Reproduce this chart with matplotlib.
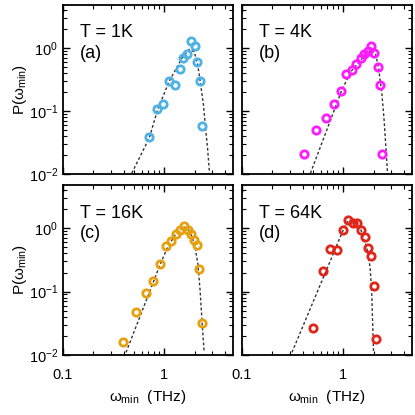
"""Distribution of omega_min at four temperatures (2x2 log-log panels)."""
import matplotlib
matplotlib.use('Agg')
import matplotlib.pyplot as plt
from matplotlib.ticker import LogLocator, FixedLocator, FixedFormatter, NullFormatter

plt.rcParams['font.family'] = ['Liberation Sans', 'DejaVu Sans']
plt.rcParams['mathtext.fontset'] = 'custom'
plt.rcParams['mathtext.rm'] = 'Liberation Sans'
plt.rcParams['mathtext.it'] = 'Liberation Sans'
plt.rcParams['mathtext.bf'] = 'Liberation Sans:bold'

# ---- data ----
temps = ["T = 1K", "T = 4K", "T = 16K", "T = 64K"]
tags = ["(a)", "(b)", "(c)", "(d)"]
colors = ['#4DB2E6', '#FF1AFF', '#E5A00D', '#E02619']

w_1K = [0.71, 0.86, 0.98, 1.13, 1.28, 1.42, 1.54, 1.69, 1.84, 2.00, 2.11, 2.26, 2.39]
p_1K = [0.038, 0.107, 0.13, 0.30, 0.26, 0.46, 0.68, 0.81, 1.28, 1.09, 0.59, 0.30, 0.057]

w_4K = [0.41, 0.545, 0.68, 0.815, 0.955, 1.08, 1.23, 1.35, 1.49, 1.61, 1.75, 1.89, 2.04,
        2.19, 2.31, 2.43]
p_4K = [0.021, 0.049, 0.077, 0.128, 0.21, 0.38, 0.45, 0.56, 0.69, 0.79, 0.90, 1.08, 0.84,
        0.49, 0.255, 0.021]

w_16K = [0.395, 0.53, 0.66, 0.78, 0.92, 1.05, 1.18, 1.31, 1.44, 1.58, 1.71, 1.84, 1.97,
         2.10, 2.20, 2.38]
p_16K = [0.016, 0.048, 0.095, 0.149, 0.276, 0.525, 0.63, 0.81, 0.95, 1.09, 0.95, 0.81,
         0.66, 0.55, 0.23, 0.032]

w_64K = [0.505, 0.63, 0.746, 0.877, 1.0, 1.12, 1.25, 1.38, 1.50, 1.63, 1.75, 1.87, 2.00, 2.12]
p_64K = [0.0266, 0.214, 0.47, 0.46, 0.93, 1.35, 1.21, 1.20, 0.94, 0.72, 0.48, 0.37,
         0.121, 0.0176]

# fitted (dotted) curves, traced points
fw_1K = [0.479, 0.715, 0.867, 1.128, 1.50, 1.77, 1.98, 2.14, 2.27, 2.45, 2.57, 2.69, 2.81]
fp_1K = [0.0103, 0.0377, 0.108, 0.30, 0.686, 0.95, 0.87, 0.57, 0.30, 0.125, 0.053, 0.0256, 0.0103]

fw_4K = [0.475, 0.68, 0.966, 1.19, 1.55, 1.92, 2.11, 2.24, 2.41, 2.55, 2.65, 2.75]
fp_4K = [0.0103, 0.047, 0.21, 0.42, 0.686, 0.93, 0.77, 0.48, 0.20, 0.068, 0.026, 0.0103]

fw_16K = [0.42, 0.624, 0.92, 1.10, 1.34, 1.55, 1.78, 2.00, 2.16, 2.27, 2.38, 2.49]
fp_16K = [0.011, 0.0557, 0.276, 0.53, 0.865, 1.06, 0.92, 0.565, 0.27, 0.103, 0.031, 0.011]

fw_64K = [0.312, 1.0, 1.12, 1.28, 1.49, 1.71, 1.85, 1.92, 2.00]
fp_64K = [0.011, 0.93, 1.32, 1.29, 0.97, 0.50, 0.24, 0.092, 0.011]

points = [(w_1K, p_1K), (w_4K, p_4K), (w_16K, p_16K), (w_64K, p_64K)]
fits = [(fw_1K, fp_1K), (fw_4K, fp_4K), (fw_16K, fp_16K), (fw_64K, fp_64K)]

W = H = 415
fig = plt.figure(figsize=(W / 100, H / 100), dpi=100)
# panel boxes in pixels: left, top, width, height
boxes = [(63, 5, 170, 169), (242, 5, 170, 169), (63, 185, 170, 170), (242, 185, 170, 170)]

for i, (l, t, w, h) in enumerate(boxes):
    ax = fig.add_axes([l / W, (H - t - h) / H, w / W, h / H])
    ax.set_xscale('log')
    ax.set_yscale('log')
    fx, fy = fits[i]
    ax.plot(fx, fy, color='#333333', lw=1.0, ls=(0, (2, 1.6)), zorder=2)
    x, y = points[i]
    ax.plot(x, y, 'o', ms=5.3, mfc='none', mec=colors[i], mew=2.0, zorder=3,
            clip_on=False)
    ax.set_xlim(0.1, 4.8)
    ax.set_ylim(0.01, 4.8)

    ax.xaxis.set_major_locator(FixedLocator([0.1, 1]))
    ax.xaxis.set_major_formatter(FixedFormatter(['0.1', '1']))
    ax.xaxis.set_minor_locator(LogLocator(base=10, subs=range(2, 10)))
    ax.xaxis.set_minor_formatter(NullFormatter())
    ax.yaxis.set_major_locator(LogLocator(base=10, numticks=10))
    ax.yaxis.set_minor_locator(LogLocator(base=10, subs=range(2, 10), numticks=10))
    ax.yaxis.set_minor_formatter(NullFormatter())
    ax.tick_params(which='both', direction='in', top=True, right=True, labelsize=10.5)
    ax.tick_params(which='major', length=5, width=1)
    ax.tick_params(which='minor', length=3, width=0.8)
    ax.tick_params(axis='x', pad=9)
    for s in ax.spines.values():
        s.set_linewidth(1.3)

    if i < 2:
        ax.tick_params(labelbottom=False)
    else:
        ax.set_xlabel(r'$\omega_{\rm min}$  (THz)', fontsize=11, labelpad=5)
    if i % 2 == 1:
        ax.tick_params(labelleft=False)
    else:
        ax.set_ylabel(r'P($\omega_{\rm min}$)', fontsize=11, labelpad=0)

    ax.text(0.1, 0.885, temps[i] + '\n' + tags[i], transform=ax.transAxes,
            fontsize=13, va='top', ha='left', linespacing=1.25)

fig.savefig('out.png', dpi=100)
